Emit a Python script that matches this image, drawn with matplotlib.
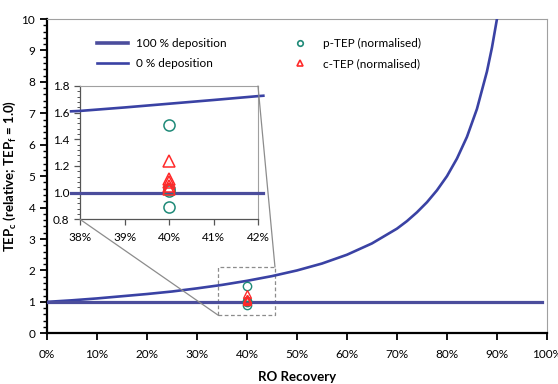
import matplotlib
matplotlib.use("Agg")
import matplotlib.pyplot as plt
from matplotlib.ticker import MultipleLocator, PercentFormatter, FormatStrFormatter
from matplotlib.patches import Rectangle, ConnectionPatch
from matplotlib.lines import Line2D

plt.rcParams['font.family'] = ['Lato', 'DejaVu Sans']
plt.rcParams['mathtext.fontset'] = 'custom'
plt.rcParams['mathtext.rm'] = 'Lato'
plt.rcParams['mathtext.bf'] = 'Lato:bold'

# model curves
recovery = [0.00, 0.05, 0.10, 0.15, 0.20, 0.25, 0.30, 0.35, 0.40, 0.45,
            0.50, 0.55, 0.60, 0.65, 0.70, 0.72, 0.74, 0.76, 0.78, 0.80,
            0.82, 0.84, 0.86, 0.88, 0.89, 0.90, 0.91]
tep_0dep = [1.00, 1.05, 1.11, 1.18, 1.25, 1.33, 1.43, 1.54, 1.67, 1.82,
            2.00, 2.22, 2.50, 2.86, 3.33, 3.57, 3.85, 4.17, 4.55, 5.00,
            5.56, 6.25, 7.14, 8.33, 9.09, 10.0, 11.1]
flat_x = [0.00, 0.99]
tep_100dep = [1.0, 1.0]

# zoomed section of the curves
zoom_x = [0.378, 0.38, 0.39, 0.40, 0.41, 0.42, 0.4212]
zoom_0dep = [1.61, 1.613, 1.639, 1.667, 1.695, 1.724, 1.727]
zoom_flat_x = [0.378, 0.4212]

# measured points at 40 % recovery
ptep_x = [0.40, 0.40, 0.40, 0.40]
ptep = [1.51, 1.03, 1.01, 0.89]
ctep_x = [0.40, 0.40, 0.40, 0.40, 0.40]
ctep = [1.24, 1.10, 1.08, 1.05, 1.03]

# dashed zoom window on the main axes
box_x = (0.342, 0.456)
box_y = (0.58, 2.11)

navy = '#3a42a4'
navy_flat = '#4b4d9c'
teal = '#1f8a78'
red = '#ff2a2a'
grey = '#8c8c8c'

fig = plt.figure(figsize=(5.58, 3.84), dpi=100)
ax = fig.add_axes([0.0842, 0.132, 0.896, 0.8185])

ax.plot(recovery, tep_0dep, color=navy, lw=1.9, zorder=3)
ax.plot(flat_x, tep_100dep, color=navy_flat, lw=2.3, zorder=3)
ax.plot(ptep_x, ptep, ls='none', marker='o', ms=6, mfc='none', mec=teal, mew=1.0, zorder=4)
ax.plot(ctep_x, ctep, ls='none', marker='^', ms=6, mfc='none', mec=red, mew=1.0, zorder=4)

ax.set_xlim(0, 1)
ax.set_ylim(0, 10)
ax.xaxis.set_major_locator(MultipleLocator(0.1))
ax.xaxis.set_major_formatter(PercentFormatter(1.0, decimals=0))
ax.yaxis.set_major_locator(MultipleLocator(1))
ax.yaxis.set_minor_locator(MultipleLocator(0.2))
ax.tick_params(axis='both', labelsize=8.5, direction='out', width=1.3, length=5)
ax.tick_params(axis='y', which='minor', width=1.0, length=3)
ax.tick_params(axis='x', pad=6)
for s in ('left', 'bottom'):
    ax.spines[s].set_linewidth(1.6)
    ax.spines[s].set_color('black')
for s in ('top', 'right'):
    ax.spines[s].set_linewidth(0.8)
    ax.spines[s].set_color('#a0a0a0')

ax.set_xlabel('RO Recovery', fontsize=9.5, fontweight='bold', labelpad=8)
ax.set_ylabel(r'TEP$_\mathbf{c}$ (relative; TEP$_\mathbf{f}$ = 1.0)',
              fontsize=9.5, fontweight='bold')
ax.yaxis.set_label_coords(-0.058, 0.5)

ax.add_patch(Rectangle((box_x[0], box_y[0]), box_x[1] - box_x[0], box_y[1] - box_y[0],
                       fill=False, ls=(0, (3, 2)), lw=0.9, ec=grey, zorder=2))

handles = [
    Line2D([], [], color=navy_flat, lw=2.6),
    Line2D([], [], color=navy, lw=1.9),
    Line2D([], [], ls='none', marker='o', ms=4, mfc='none', mec=teal, mew=1.2),
    Line2D([], [], ls='none', marker='^', ms=4, mfc='none', mec=red, mew=1.2),
]
labels = ['100 % deposition', '0 % deposition', 'p-TEP (normalised)', 'c-TEP (normalised)']
fig.legend(handles, labels, ncol=2, frameon=False, fontsize=8.5,
           loc='upper left', bbox_to_anchor=(97 / 558, 1 - 38 / 384),
           borderpad=0, borderaxespad=0, handlelength=2.6, handletextpad=0.7,
           columnspacing=4.9, labelspacing=0.75)

# inset
axi = fig.add_axes([80 / 558, 1 - 219.3 / 384, 178 / 558, 133.3 / 384])
axi.plot(zoom_x, zoom_0dep, color=navy, lw=1.9, clip_on=False, zorder=3)
axi.plot(zoom_flat_x, tep_100dep, color=navy_flat, lw=2.3, clip_on=False, zorder=3)
axi.plot(ptep_x, ptep, ls='none', marker='o', ms=8, mfc='none', mec=teal, mew=1.1, zorder=4)
axi.plot(ctep_x, ctep, ls='none', marker='^', ms=8, mfc='none', mec=red, mew=1.1, zorder=4)
axi.set_xlim(0.38, 0.42)
axi.set_ylim(0.8, 1.8)
axi.xaxis.set_major_locator(MultipleLocator(0.01))
axi.xaxis.set_major_formatter(PercentFormatter(1.0, decimals=0))
axi.yaxis.set_major_locator(MultipleLocator(0.2))
axi.yaxis.set_minor_locator(MultipleLocator(0.04))
axi.yaxis.set_major_formatter(FormatStrFormatter('%.1f'))
axi.tick_params(axis='both', labelsize=8.5, direction='out', width=0.9, length=4, color='#555555')
axi.tick_params(axis='y', which='minor', width=0.7, length=2.5, color='#555555')
axi.tick_params(axis='x', pad=5)
for s in ('left', 'bottom'):
    axi.spines[s].set_linewidth(0.9)
    axi.spines[s].set_color('#555555')
for s in ('top', 'right'):
    axi.spines[s].set_linewidth(0.8)
    axi.spines[s].set_color('#a0a0a0')

# connectors between inset and zoom window
for xa, ya, xb, yb in [(0.38, 0.8, box_x[0], box_y[0]), (0.42, 1.8, box_x[1], box_y[1])]:
    con = ConnectionPatch(xyA=(xa, ya), coordsA=axi.transData,
                          xyB=(xb, yb), coordsB=ax.transData,
                          color=grey, lw=0.9, zorder=1)
    fig.add_artist(con)

fig.savefig('out.png', dpi=100)
